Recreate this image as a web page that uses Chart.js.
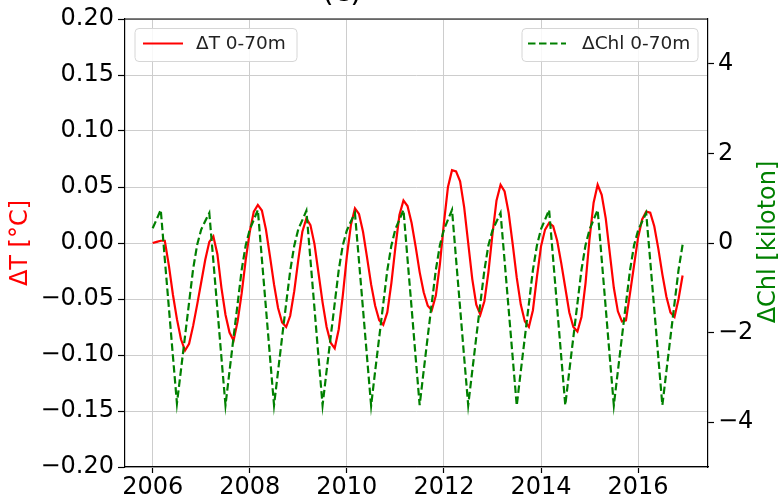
<!DOCTYPE html>
<html>
<head>
<meta charset="utf-8">
<script src="https://cdn.jsdelivr.net/npm/chart.js@4.4.0/dist/chart.umd.min.js"></script>
<style>
html,body{margin:0;padding:0;background:#fff;}
#wrap{width:784px;height:498px;position:relative;}
</style>
</head>
<body>
<div id="wrap"><canvas id="c" width="784" height="498"></canvas></div>
<script>
// ---- data (monthly, Jan 2006 .. Dec 2016) ----
const startYear = 2006;
const xTicks = [2006, 2008, 2010, 2012, 2014, 2016];
const leftTicks = [-0.20, -0.15, -0.10, -0.05, 0.00, 0.05, 0.10, 0.15, 0.20];
const rightTicks = [-4, -2, 0, 2, 4];
const seriesNames = ['ΔT 0-70m', 'ΔChl 0-70m'];
const titleText = '(c)';
const leftAxisTitle = 'ΔT [°C]';
const rightAxisTitle = 'ΔChl [kiloton]';

// ΔT 0-70m [°C]
const dT = [
  0.000, 0.001, 0.002, 0.002, -0.020, -0.046, -0.068, -0.086, -0.096, -0.090, -0.074, -0.055,
 -0.035, -0.015, 0.001, 0.006, -0.010, -0.040, -0.064, -0.080, -0.087, -0.070, -0.045, -0.015,
  0.010, 0.028, 0.034, 0.029, 0.012, -0.012, -0.037, -0.058, -0.071, -0.075, -0.065, -0.043,
 -0.015, 0.010, 0.022, 0.016, -0.001, -0.027, -0.053, -0.075, -0.089, -0.094, -0.077, -0.047,
 -0.012, 0.016, 0.031, 0.026, 0.010, -0.013, -0.037, -0.056, -0.069, -0.073, -0.062, -0.036,
 -0.004, 0.025, 0.038, 0.033, 0.018, -0.003, -0.026, -0.044, -0.056, -0.060, -0.047, -0.019,
  0.018, 0.050, 0.065, 0.064, 0.055, 0.032, 0.000, -0.032, -0.055, -0.064, -0.052, -0.026,
  0.008, 0.038, 0.052, 0.046, 0.027, -0.001, -0.031, -0.055, -0.070, -0.075, -0.060, -0.030,
 -0.003, 0.012, 0.018, 0.015, 0.002, -0.018, -0.040, -0.062, -0.075, -0.079, -0.066, -0.036,
  0.004, 0.036, 0.052, 0.043, 0.022, -0.009, -0.040, -0.061, -0.070, -0.069, -0.045, -0.020,
  0.005, 0.021, 0.028, 0.027, 0.015, -0.005, -0.028, -0.048, -0.062, -0.066, -0.050, -0.029
];

// ΔChl 0-70m [kiloton]
const dChl = [
  0.33, 0.53, 0.74, -0.36, -1.44, -2.52, -3.58, -2.83, -2.08, -1.33, -0.58, -0.04,
  0.30, 0.49, 0.67, -0.40, -1.48, -2.56, -3.62, -2.86, -2.10, -1.36, -0.60, -0.05,
  0.30, 0.52, 0.74, -0.36, -1.45, -2.54, -3.62, -2.86, -2.10, -1.35, -0.62, -0.06,
  0.31, 0.51, 0.72, -0.37, -1.46, -2.55, -3.62, -2.85, -2.10, -1.35, -0.60, -0.05,
  0.28, 0.48, 0.67, -0.40, -1.48, -2.56, -3.63, -2.86, -2.11, -1.36, -0.61, -0.06,
  0.31, 0.52, 0.74, -0.36, -1.44, -2.54, -3.62, -2.85, -2.09, -1.34, -0.60, -0.05,
  0.30, 0.52, 0.74, -0.36, -1.45, -2.55, -3.62, -2.86, -2.10, -1.35, -0.61, -0.05,
  0.28, 0.48, 0.67, -0.40, -1.48, -2.56, -3.63, -2.86, -2.11, -1.36, -0.60, -0.05,
  0.31, 0.52, 0.74, -0.36, -1.45, -2.54, -3.62, -2.85, -2.10, -1.35, -0.60, -0.05,
  0.30, 0.52, 0.74, -0.36, -1.45, -2.55, -3.62, -2.86, -2.10, -1.35, -0.61, -0.05,
  0.28, 0.48, 0.67, -0.40, -1.48, -2.56, -3.62, -2.86, -2.10, -1.35, -0.60, -0.04
];

// ---- build ----
const monthX = dT.map((_, i) => startYear + i / 12);
const toPts = arr => arr.map((v, i) => ({x: monthX[i], y: v}));
const minusFmt = s => s.replace('-', '\u2212');
const FONT = "'DejaVu Sans', sans-serif";

const frameAndText = {
  id: 'frameAndText',
  afterDatasetsDraw(chart) {
    const ctx = chart.ctx, a = chart.chartArea;
    ctx.save();
    // top spine
    ctx.strokeStyle = '#000'; ctx.lineWidth = 1.2;
    ctx.beginPath(); ctx.moveTo(a.left, a.top); ctx.lineTo(a.right, a.top); ctx.stroke();

    function box(x0, y0, x1, y1) {
      const r = 4;
      ctx.beginPath();
      ctx.moveTo(x0 + r, y0); ctx.lineTo(x1 - r, y0); ctx.quadraticCurveTo(x1, y0, x1, y0 + r);
      ctx.lineTo(x1, y1 - r); ctx.quadraticCurveTo(x1, y1, x1 - r, y1);
      ctx.lineTo(x0 + r, y1); ctx.quadraticCurveTo(x0, y1, x0, y1 - r);
      ctx.lineTo(x0, y0 + r); ctx.quadraticCurveTo(x0, y0, x0 + r, y0);
      ctx.closePath();
      ctx.fillStyle = 'rgba(255,255,255,0.85)'; ctx.fill();
      ctx.strokeStyle = '#d6d6d6'; ctx.lineWidth = 1; ctx.stroke();
    }
    // legend 1
    box(135, 28.5, 297, 61.5);
    ctx.strokeStyle = '#ff0000'; ctx.lineWidth = 2.2; ctx.setLineDash([]);
    ctx.beginPath(); ctx.moveTo(143, 43.5); ctx.lineTo(183, 43.5); ctx.stroke();
    ctx.fillStyle = '#222'; ctx.font = '18.5px ' + FONT; ctx.textBaseline = 'middle'; ctx.textAlign = 'left';
    ctx.fillText(seriesNames[0], 196, 44);
    // legend 2
    box(522, 28.5, 698, 61.5);
    ctx.strokeStyle = '#008000'; ctx.lineWidth = 2.2; ctx.setLineDash([7.5, 3.5]);
    ctx.beginPath(); ctx.moveTo(528, 43.5); ctx.lineTo(566, 43.5); ctx.stroke();
    ctx.setLineDash([]);
    ctx.fillStyle = '#222';
    ctx.fillText(seriesNames[1], 582, 44);

    // axis titles
    ctx.font = '24px ' + FONT; ctx.textAlign = 'center'; ctx.textBaseline = 'middle';
    ctx.save(); ctx.translate(21, 243); ctx.rotate(-Math.PI / 2);
    ctx.fillStyle = '#ff0000'; ctx.fillText(leftAxisTitle, 0, 0); ctx.restore();
    ctx.save(); ctx.translate(769, 242); ctx.rotate(-Math.PI / 2);
    ctx.fillStyle = '#008000'; ctx.fillText(rightAxisTitle, 0, 0); ctx.restore();

    // title, clipped by the top edge as in the reference
    ctx.font = '30px ' + FONT; ctx.textBaseline = 'alphabetic'; ctx.fillStyle = '#000';
    ctx.fillText(titleText, 342, 1);
    ctx.restore();
  }
};

new Chart(document.getElementById('c'), {
  type: 'line',
  data: {
    datasets: [
      {label: seriesNames[0], data: toPts(dT), yAxisID: 'y', borderColor: '#ff0000', borderWidth: 2.2,
       pointRadius: 0, tension: 0, fill: false, order: 2},
      {label: seriesNames[1], data: toPts(dChl), yAxisID: 'y2', borderColor: '#008000', borderWidth: 2.2,
       borderDash: [7.5, 3.5], pointRadius: 0, tension: 0, fill: false, order: 1}
    ]
  },
  options: {
    responsive: false, animation: false, devicePixelRatio: 1,
    layout: {padding: {top: 19, left: 0, right: 0, bottom: 0}},
    plugins: {legend: {display: false}, tooltip: {enabled: false}, title: {display: false}},
    scales: {
      x: {
        type: 'linear', min: 2005.43, max: 2017.44,
        afterBuildTicks: s => { s.ticks = xTicks.map(v => ({value: v})); },
        afterFit: s => { s.height = 31; },
        ticks: {font: {family: FONT, size: 24}, color: '#000', padding: 0, maxRotation: 0, autoSkip: false,
                callback: v => String(v)},
        grid: {color: '#cdcdcd', lineWidth: 1, tickLength: 6, tickColor: '#000', tickWidth: 1.2},
        border: {color: '#000', width: 1.2}
      },
      y: {
        position: 'left', min: -0.2, max: 0.2,
        afterBuildTicks: s => { s.ticks = leftTicks.map(v => ({value: v})); },
        afterFit: s => { s.width = 125; },
        ticks: {font: {family: FONT, size: 24}, color: '#000', padding: 4, autoSkip: false,
                callback: v => minusFmt(Number(v).toFixed(2))},
        grid: {color: '#cdcdcd', lineWidth: 1, tickLength: 7, tickColor: '#000', tickWidth: 1.2},
        border: {color: '#000', width: 1.2}
      },
      y2: {
        position: 'right', min: -5, max: 5,
        afterBuildTicks: s => { s.ticks = rightTicks.map(v => ({value: v})); },
        afterFit: s => { s.width = 76; },
        ticks: {font: {family: FONT, size: 24}, color: '#000', padding: 4, autoSkip: false,
                callback: v => minusFmt(String(v))},
        grid: {drawOnChartArea: false, tickLength: 6, tickColor: '#000', tickWidth: 1.2},
        border: {color: '#000', width: 1.2}
      }
    }
  },
  plugins: [frameAndText]
});
</script>
</body>
</html>
